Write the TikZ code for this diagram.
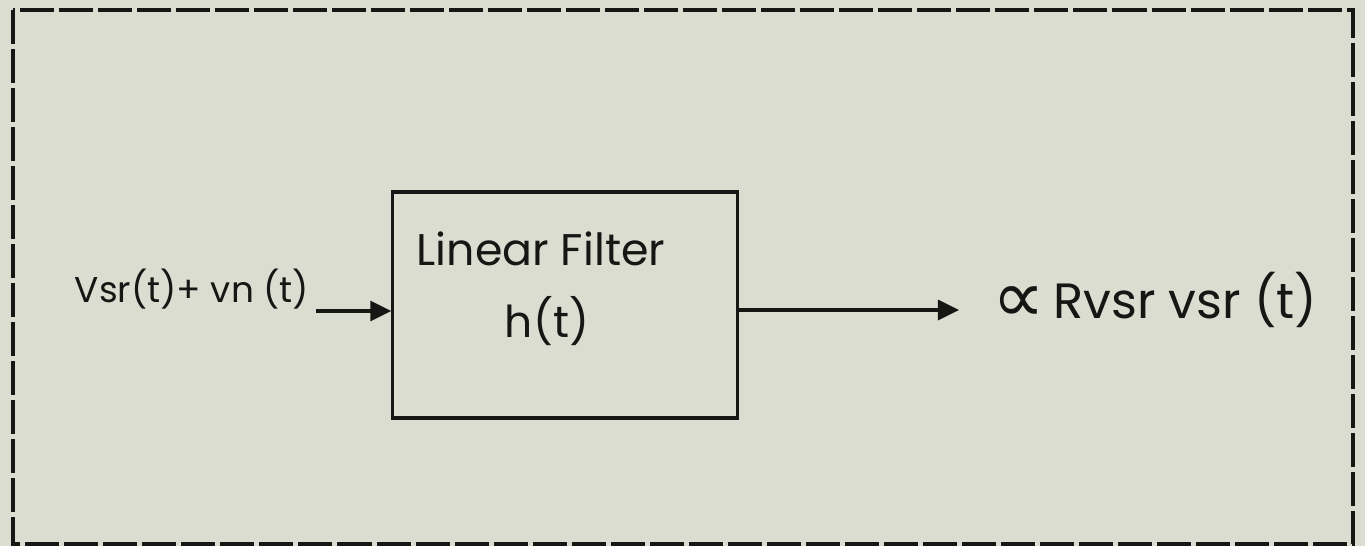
\documentclass[tikz,border=0pt]{standalone}
\usepackage{fontspec}
\setmainfont{Poppins}
\newfontfamily\symfont{DejaVu Sans}
\usetikzlibrary{arrows.meta}
\definecolor{paper}{RGB}{218,221,207}
\definecolor{ink}{RGB}{22,22,20}
\tikzset{
  frame/.style={draw=ink, line width=1.2pt, dash pattern=on 0.34cm off 0.05cm},
  filterbox/.style={draw=ink, line width=0.9pt, minimum width=3.44cm, minimum height=2.26cm, inner sep=0pt},
  signal/.style={draw=ink, line width=0.9pt, -{Triangle[length=0.21cm,width=0.2cm]}},
  label/.style={text=ink, inner sep=0pt, font=\fontsize{10.2}{12}\selectfont},
}
\begin{document}
\begin{tikzpicture}[x=0.01cm, y=-0.01cm]
  % paper and dashed outer frame
  \fill[paper] (0,0) rectangle (1365,546);
  \useasboundingbox (0,0) rectangle (1365,546);
  \draw[frame] (13,10) rectangle (1353,544);

  % the filter block
  \node[filterbox] (filter) at (565,305) {};
  \node[label, font=\fontsize{12.6}{14}\selectfont] (name) at (541,249) {Linear Filter};
  \node[label, font=\fontsize{12.5}{14}\selectfont] (imp) at (547,321) {h(t)};

  % input signal
  \node[label] (in) at (192,289) {Vsr(t)+ vn (t)};
  \coordinate (inStart) at (316,311);
  \draw[signal] (inStart) -- (inStart -| filter.west);

  % output signal
  \coordinate (outEnd) at (959,310);
  \draw[signal] (outEnd -| filter.east) -- (outEnd);
  \node[label, font=\fontsize{14.1}{17}\selectfont] (out) at (1155,300)
    {\raisebox{-0.08em}{\symfont\fontsize{21}{21}\selectfont ∝}\,Rvsr vsr (t)};
\end{tikzpicture}
\end{document}
